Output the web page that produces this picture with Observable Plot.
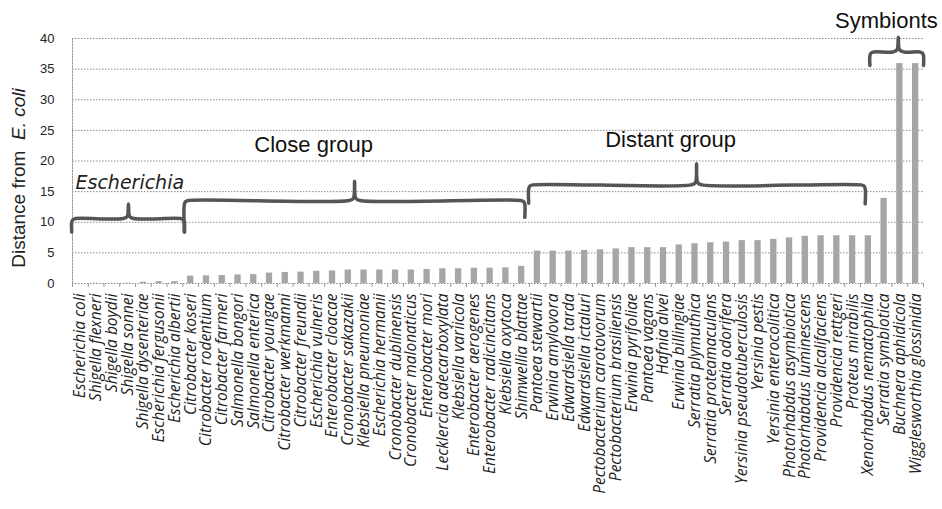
<!DOCTYPE html>
<html><head><meta charset="utf-8">
<script src="https://cdn.jsdelivr.net/npm/d3@7"></script>
<script src="https://cdn.jsdelivr.net/npm/@observablehq/plot@0.6"></script>
<style>body{margin:0;background:#fff} #chart{width:942px;height:509px;overflow:hidden}</style>
</head><body><div id="chart"></div>
<script>
// ---- data ----
const species = [
  "Escherichia coli","Shigella flexneri","Shigella boydii","Shigella sonnei","Shigella dysenteriae",
  "Escherichia fergusonii","Escherichia albertii","Citrobacter koseri","Citrobacter rodentium","Citrobacter farmeri",
  "Salmonella bongori","Salmonella enterica","Citrobacter youngae","Citrobacter werkmanni","Citrobacter freundii",
  "Escherichia vulneris","Enterobacter cloacae","Cronobacter sakazakii","Klebsiella pneumoniae","Escherichia hermanii",
  "Cronobacter dublinensis","Cronobacter malonaticus","Enterobacter mori","Lecklercia adecarboxylata","Klebsiella variicola",
  "Enterobacter aerogenes","Enterobacter radicincitans","Klebsiella oxytoca","Shimwellia blattae","Pantoea stewartii",
  "Erwinia amylovora","Edwardsiella tarda","Edwardsiella ictaluri","Pectobacterium carotovorum","Pectobacterium brasiliensis",
  "Erwinia pyrifoliae","Pantoea vagans","Hafnia alvei","Erwinia billingiae","Serratia plymuthica",
  "Serratia proteamaculans","Serratia odorifera","Yersinia pseudotuberculosis","Yersinia pestis","Yersinia enterocolitica",
  "Photorhabdus asymbiotica","Photorhabdus luminescens","Providencia alcalifaciens","Providencia rettgeri","Proteus mirabilis",
  "Xenorhabdus nematophila","Serratia symbiotica","Buchnera aphidicola","Wigglesworthia glossinidia"
];
const distance = [
  0, 0.03, 0.03, 0.05, 0.2, 0.3, 0.3, 1.2, 1.25, 1.3,
  1.4, 1.45, 1.7, 1.8, 1.85, 2.0, 2.05, 2.2, 2.2, 2.2,
  2.2, 2.2, 2.3, 2.4, 2.4, 2.5, 2.5, 2.55, 2.8, 5.3,
  5.3, 5.3, 5.4, 5.5, 5.65, 5.85, 5.85, 5.85, 6.3, 6.5,
  6.65, 6.75, 7.0, 7.0, 7.2, 7.45, 7.7, 7.8, 7.8, 7.8,
  7.8, 13.9, 35.9, 35.9
];
const yTicks = [0, 5, 10, 15, 20, 25, 30, 35, 40];

// group brackets (x in category-index units, y in distance units)
const groupNames  = ["Escherichia", "Close group", "Distant group", "Symbionts"];
const groupStart  = [-0.55, 6.6, 28.45, 50.1];
const groupEnd    = [6.6, 28.2, 49.8, 53.5];
const groupMid    = [3.05, 17.4, 39.1, 51.9];
const groupLevel  = [10.6, 13.55, 16.1, 37.8];
const groupTip    = [13.0, 16.7, 19.55, 40.2];
const groupFootL  = [8.4, 8.4, 13.1, 35.6];
const groupFootR  = [8.4, 10.8, 13.0, 35.6];
const labelX      = [-0.31, 14.8, 37.45, 51.15];
const labelY      = [15.5, 21.45, 22.3, 41.7];

// ---- derived tables ----
const bars = species.map((s, i) => ({i, species: s, distance: distance[i]}));
const indices = d3.range(species.length);
const edges = d3.range(species.length + 1).map(i => i - 0.5);

const bracePoints = [];
groupNames.forEach((g, k) => {
  const x0 = groupStart[k], x1 = groupEnd[k], xm = groupMid[k];
  const yl = groupLevel[k], yt = groupTip[k];
  const rx = 0.25, ry = 0.6;
  const pts = [
    [x0, groupFootL[k]], [x0, yl - ry], [x0 + rx * 0.3, yl - ry * 0.3], [x0 + rx, yl],
    [xm - 0.35, yl], [xm - 0.08, yl + 0.35], [xm, yt], [xm + 0.08, yl + 0.35], [xm + 0.35, yl],
    [x1 - rx, yl], [x1 - rx * 0.3, yl - ry * 0.3], [x1, yl - ry], [x1, groupFootR[k]]
  ];
  pts.forEach(([x, y]) => bracePoints.push({g, x, y}));
});
const groupIdx = d3.range(groupNames.length);

const plot = Plot.plot({
  width: 942, height: 509,
  marginLeft: 72, marginRight: 19, marginTop: 38, marginBottom: 226,
  style: {fontFamily: "'Liberation Sans', Arial, sans-serif", background: "#fff", color: "#222", overflow: "visible"},
  x: {domain: [-0.5, species.length - 0.5], axis: null},
  y: {domain: [0, 40], axis: null},
  marks: [
    Plot.gridY(yTicks, {stroke: "#8a8a8a", strokeOpacity: 1, strokeDasharray: "1.5,1.5"}),
    Plot.frame({anchor: "left", stroke: "#999", strokeDasharray: "1.5,1.5"}),
    Plot.axisY(yTicks, {tickSize: 0, tickPadding: 18, fontSize: 13, label: null}),
    Plot.axisX(edges, {tickSize: 4, tickFormat: () => "", stroke: "#999", label: null}),
    Plot.axisX(indices, {tickSize: 0, tickPadding: 10, tickRotate: -90, tickFormat: i => species[i],
      fontSize: 15.5, fontFamily: "'Open Sans', sans-serif", fontStyle: "italic", label: null}),
    Plot.rectY(bars, {x1: d => d.i - 0.2, x2: d => d.i + 0.2, y: "distance", fill: "#a6a6a6"}),
    Plot.line(bracePoints, {x: "x", y: "y", z: "g", stroke: "#555", strokeWidth: 3.5,
      curve: "catmull-rom", strokeLinejoin: "round", strokeLinecap: "round"}),
    Plot.text(groupIdx.filter(k => k === 0), {x: k => labelX[k], y: k => labelY[k], text: k => groupNames[k],
      textAnchor: "start", lineAnchor: "bottom", fontSize: 19, fontStyle: "italic",
      fontFamily: "'DejaVu Sans', sans-serif", fill: "#222"}),
    Plot.text(groupIdx.filter(k => k > 0), {x: k => labelX[k], y: k => labelY[k], text: k => groupNames[k],
      textAnchor: "middle", lineAnchor: "bottom", fontSize: 22, fill: "#111", ariaLabel: "group label"})
  ]
});

// vertical stretch of the group labels (narrow look of the original)
d3.select(plot).selectAll('g[aria-label="group label"] text').each(function() {
  const t = d3.select(this);
  t.attr("transform", (t.attr("transform") || "") + " scale(1,1.25)");
});

// y-axis title with italic species name
const title = d3.select(plot).append("text")
  .attr("transform", "translate(25,178) rotate(-90)")
  .attr("text-anchor", "middle")
  .attr("font-size", 19)
  .attr("font-family", "'Liberation Sans', Arial, sans-serif")
  .attr("fill", "#222");
title.append("tspan").text("Distance from\u00a0\u00a0");
title.append("tspan").attr("font-style", "italic").text("E. coli");

document.getElementById("chart").appendChild(plot);
</script>
</body></html>
